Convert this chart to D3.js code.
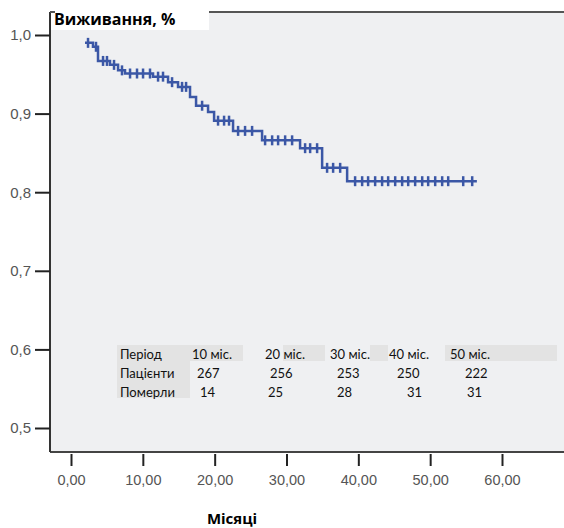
<!DOCTYPE html>
<html><head><meta charset="utf-8">
<script src="https://cdn.jsdelivr.net/npm/d3@7"></script>
<style>
html,body{margin:0;padding:0;background:#fff;}
svg{display:block;}
</style></head>
<body><svg id="chart" width="564" height="528"></svg>
<script>
// ---- data ----
const stepTimes    = [1.95, 3.06, 3.76, 5.43, 6.55, 7.52, 11.42, 13.51, 14.90, 16.57, 17.41, 19.08, 19.92, 22.56, 26.60, 31.89, 34.96, 38.44];
const stepSurvival = [0.990,0.985,0.967,0.962,0.955,0.951,0.947, 0.940, 0.934, 0.921, 0.910, 0.902, 0.891, 0.878, 0.866, 0.856, 0.831, 0.814];
const lastTime = 56.5;
const censorTimes = [2.37,3.48,4.46,5.01,5.99,7.10,8.22,9.19,10.03,11.0,12.12,12.81,14.07,15.46,16.02,18.25,20.47,21.31,22.0,23.26,24.23,25.21,27.02,28.0,28.83,29.81,30.78,32.59,33.29,34.26,35.65,36.49,37.47,39.55,40.53,41.36,42.34,43.31,44.15,45.13,46.1,46.94,47.91,48.89,49.72,50.7,51.67,52.51,54.6,55.85];
const xTicks = [0,10,20,30,40,50,60];
const yTicks = [0.5,0.6,0.7,0.8,0.9,1.0];
const tableRowLabels = ["Період","Пацієнти","Померли"];
const tablePeriods = ["10 міс.","20 міс.","30 міс.","40 міс.","50 міс."];
const tablePatients = ["267","256","253","250","222"];
const tableDeaths = ["14","25","28","31","31"];
const titleText = "Виживання, %";
const xTitle = "Місяці";

// ---- layout ----
const svg = d3.select("#chart");
const W = 564, H = 528;
const plotL = 50, plotT = 12, plotB = 452, plotR = 564;
const x = d3.scaleLinear().domain([0,60]).range([71,502]);
const y = d3.scaleLinear().domain([0.5,1.0]).range([428,35]);
const comma = s => s.replace(".", ",");

svg.append("rect").attr("x",plotL).attr("y",plotT).attr("width",plotR-plotL).attr("height",plotB-plotT).attr("fill","#eff0f2");

// table background patches
const tbl = svg.append("g");
const patches = [[117,345,73,53],[190,345,53,16],[283,345,42,16],[370,345,18,16],[445,345,112,16]];
tbl.selectAll("rect").data(patches).join("rect")
  .attr("x",d=>d[0]).attr("y",d=>d[1]).attr("width",d=>d[2]).attr("height",d=>d[3]).attr("fill","#e3e3e3");

// frame
svg.append("line").attr("x1",plotL).attr("x2",plotR).attr("y1",plotT).attr("y2",plotT).attr("stroke","#555").attr("stroke-width",2);
svg.append("line").attr("x1",plotL).attr("x2",plotR).attr("y1",plotB).attr("y2",plotB).attr("stroke","#444").attr("stroke-width",2);
svg.append("line").attr("x1",plotL).attr("x2",plotL).attr("y1",plotT).attr("y2",plotB).attr("stroke","#333").attr("stroke-width",2);

// y axis
const yAxis = d3.axisLeft(y).tickValues(yTicks).tickSize(15).tickSizeOuter(0).tickPadding(4)
  .tickFormat(d => comma(d3.format(".1f")(d)));
const gy = svg.append("g").attr("transform",`translate(${plotL},0)`).call(yAxis);
gy.select(".domain").remove();
gy.selectAll(".tick line").attr("stroke","#222").attr("stroke-width",2);
gy.selectAll(".tick text").attr("fill","#555").attr("font-family","Liberation Sans, Arial, sans-serif").attr("font-size",15);

// x axis
const xAxis = d3.axisBottom(x).tickValues(xTicks).tickSize(12).tickSizeOuter(0).tickPadding(9)
  .tickFormat(d => comma(d3.format(".2f")(d)));
const gx = svg.append("g").attr("transform",`translate(0,${plotB+2})`).call(xAxis);
gx.select(".domain").remove();
gx.selectAll(".tick line").attr("stroke","#222").attr("stroke-width",2);
gx.selectAll(".tick text").attr("fill","#555").attr("font-family","Liberation Sans, Arial, sans-serif").attr("font-size",14.5);

// KM curve
const pts = stepTimes.map((t,i)=>[t,stepSurvival[i]]);
pts.push([lastTime, stepSurvival[stepSurvival.length-1]]);
const line = d3.line().x(d=>x(d[0])).y(d=>y(d[1])).curve(d3.curveStepAfter);
const blue = "#3b57a6";
svg.append("path").attr("d",line(pts)).attr("fill","none").attr("stroke",blue).attr("stroke-width",2.5);
const bis = d3.bisector(d=>d).right;
const survAt = t => stepSurvival[Math.max(0,bis(stepTimes,t)-1)];
svg.append("g").selectAll("line").data(censorTimes).join("line")
  .attr("x1",d=>x(d)).attr("x2",d=>x(d))
  .attr("y1",d=>y(survAt(d))-5).attr("y2",d=>y(survAt(d))+5)
  .attr("stroke",blue).attr("stroke-width",2.5);

// table text
const tf = "Lato, 'Open Sans', sans-serif";
const colX = [192,265,330,389,450];
const patX = [197,270,337,397,465];
const dthX = [200,268,337,407,467];
const rowY = [359,378,397];
tbl.selectAll("text.rl").data(tableRowLabels).join("text").attr("class","rl")
  .attr("x",120).attr("y",(d,i)=>rowY[i]).text(d=>d);
tbl.selectAll("text.p").data(tablePeriods).join("text").attr("class","p")
  .attr("x",(d,i)=>colX[i]).attr("y",rowY[0]).text(d=>d);
tbl.selectAll("text.n").data(tablePatients).join("text").attr("class","n")
  .attr("x",(d,i)=>patX[i]).attr("y",rowY[1]).text(d=>d);
tbl.selectAll("text.dd").data(tableDeaths).join("text").attr("class","dd")
  .attr("x",(d,i)=>dthX[i]).attr("y",rowY[2]).text(d=>d);
tbl.selectAll("text").attr("font-family",tf).attr("font-size",13).attr("fill","#111");

// title box
svg.append("rect").attr("x",plotL+1).attr("y",0).attr("width",158).attr("height",30).attr("fill","#fff");
svg.append("line").attr("x1",plotL).attr("x2",plotL+5).attr("y1",plotT).attr("y2",plotT).attr("stroke","#555").attr("stroke-width",2);
svg.append("text").attr("x",54).attr("y",25).text(titleText)
  .attr("font-family","'Open Sans', sans-serif").attr("font-weight","bold").attr("font-size",16).attr("fill","#000");

// x title
svg.append("text").attr("x",232).attr("y",524).attr("text-anchor","middle").text(xTitle)
  .attr("font-family","'Open Sans', sans-serif").attr("font-weight","bold").attr("font-size",15).attr("fill","#000");
</script></body></html>
